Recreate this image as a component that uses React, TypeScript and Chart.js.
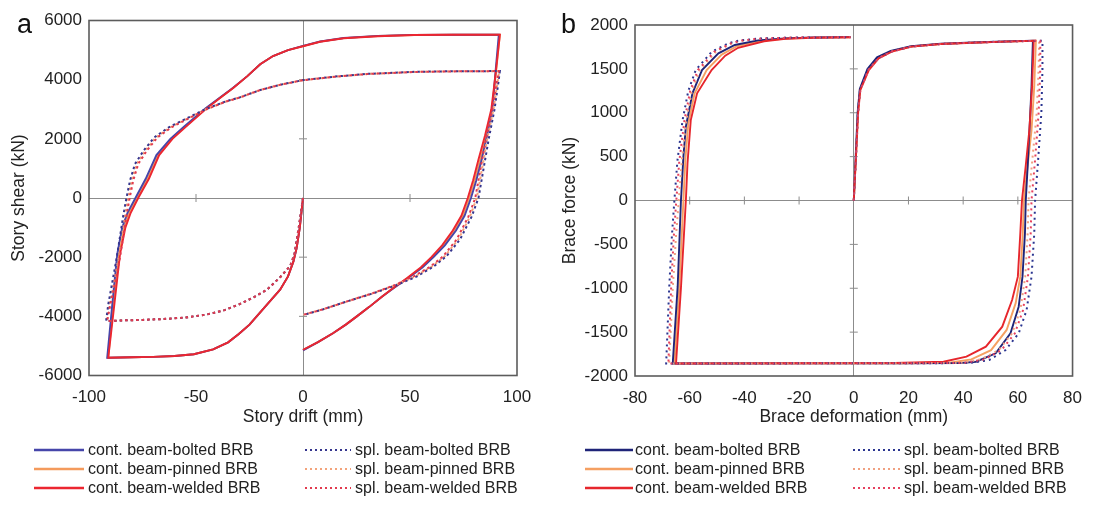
import { useEffect, useRef } from 'react';
import { Chart, registerables } from 'chart.js';

Chart.register(...registerables);

type Pt = [number, number];

const FONT = "'Liberation Sans', Arial, Helvetica, sans-serif";

const legendLabels = [
  'cont. beam-bolted BRB',
  'cont. beam-pinned BRB',
  'cont. beam-welded BRB',
  'spl. beam-bolted BRB',
  'spl. beam-pinned BRB',
  'spl. beam-welded BRB',
];

// stacking of the six curves: lower value is painted on top
const drawOrder = [4, 5, 3, 1, 2, 0];

// ---------- Panel a: story drift vs story shear ----------
const aDriftTicks = [-100, -50, 0, 50, 100];
const aShearTicks = [-6000, -4000, -2000, 0, 2000, 4000, 6000];

// continuous beam: first excursion to negative drift (common to all three)
const aContLoadNeg: Pt[] = [[0,0],[-1.5,-1000],[-3,-1700],[-4.5,-2150],[-7,-2650],[-10.7,-3100],[-15,-3450],[-20,-3870],[-25,-4280],[-30,-4600],[-35,-4880],[-42,-5120],[-51,-5280],[-60,-5340],[-70,-5370],[-80,-5385],[-91,-5400]];

const aContUpBolted: Pt[] = [[-91.5,-5400],[-89,-3500],[-86.8,-1900],[-84.5,-1000],[-82,-500],[-78.3,0],[-73.5,650],[-68.5,1450],[-62,2000],[-55.5,2420],[-45.5,3030],[-38.3,3420],[-32.8,3720],[-26,4120],[-20,4520],[-14,4800],[-7,5000],[0,5140],[8,5290],[19,5410],[35,5480],[52,5515],[70,5520],[91.5,5520]];
const aContUpPinned: Pt[] = [[-91,-5400],[-88.5,-3500],[-86,-1900],[-83.7,-1000],[-81.2,-500],[-77.6,0],[-72.7,650],[-67.8,1450],[-61.4,2000],[-55,2420],[-45.2,3030],[-38.1,3420],[-32.7,3720],[-26,4120],[-20,4520],[-14,4800],[-7,5000],[0,5135],[8,5285],[19,5405],[35,5475],[52,5512],[70,5520],[92,5520]];
const aContUpWelded: Pt[] = [[-91,-5400],[-88,-3500],[-85.5,-1900],[-83,-1000],[-80.5,-500],[-77,0],[-72,650],[-67.2,1450],[-61,2000],[-54.5,2420],[-45,3030],[-38,3420],[-32.6,3720],[-26,4120],[-20,4520],[-14,4800],[-7,5000],[0,5130],[8,5280],[19,5400],[35,5470],[52,5510],[70,5520],[92,5520]];

const aContDownBolted: Pt[] = [[91.5,5520],[90,4300],[88.5,3000],[86,2100],[83.5,1300],[81,600],[78.5,0],[75.5,-600],[71.5,-1100],[66.3,-1600],[61,-2000],[55.8,-2350],[49,-2710],[42.3,-3050],[37,-3330],[31,-3680],[25,-4010],[20,-4280],[14,-4570],[7,-4870],[0,-5150]];
const aContDownPinned: Pt[] = [[92,5520],[90.2,4250],[88.3,3000],[85.5,2100],[82.8,1300],[80.2,600],[77.7,0],[74.7,-600],[70.7,-1100],[65.6,-1600],[60.5,-2000],[55.4,-2350],[48.7,-2710],[42.1,-3050],[37,-3330],[31,-3680],[25,-4010],[20,-4280],[14,-4570],[7,-4870],[0,-5140]];
const aContDownWelded: Pt[] = [[92,5520],[90,4200],[88,3000],[85,2100],[82,1300],[79.5,600],[77,0],[74,-600],[70,-1100],[65,-1600],[60,-2000],[55,-2350],[48.5,-2710],[42,-3050],[37,-3330],[31,-3680],[25,-4010],[20,-4280],[14,-4570],[7,-4870],[0,-5130]];

// spliced beam: first excursion to negative drift (common to all three)
const aSplLoadNeg: Pt[] = [[0,0],[-2,-1000],[-4,-1900],[-6,-2300],[-10.7,-2680],[-17,-3110],[-23.4,-3370],[-29.4,-3580],[-37,-3800],[-45,-3940],[-55,-4040],[-65,-4090],[-75,-4120],[-85,-4140],[-91.5,-4160]];

const aSplUpBolted: Pt[] = [[-92,-4160],[-91,-3600],[-89.5,-3000],[-87,-2000],[-85.5,-1300],[-84,-600],[-82.5,0],[-80.8,600],[-78.5,1150],[-74.5,1600],[-69.5,2050],[-62.5,2400],[-55.5,2650],[-45.7,3000],[-36.3,3260],[-29.6,3400],[-20,3650],[-10,3840],[0,3985],[15,4105],[30,4195],[52,4265],[70,4285],[92,4290]];
const aSplUpPinned: Pt[] = [[-91.7,-4160],[-90.5,-3600],[-88.8,-3000],[-86.2,-2000],[-84.7,-1300],[-83.2,-600],[-81.7,0],[-80,600],[-77.7,1150],[-73.7,1600],[-68.7,2050],[-61.8,2400],[-55,2650],[-45.3,3000],[-36.1,3260],[-29.5,3400],[-20,3650],[-10,3840],[0,3982],[15,4102],[30,4192],[52,4262],[70,4282],[91.7,4290]];
const aSplUpWelded: Pt[] = [[-91.5,-4160],[-90,-3600],[-88.2,-3000],[-85.5,-2000],[-84,-1300],[-82.5,-600],[-81,0],[-79.3,600],[-77,1150],[-73,1600],[-68,2050],[-61.2,2400],[-54.5,2650],[-45,3000],[-36,3260],[-29.4,3400],[-20,3650],[-10,3840],[0,3980],[15,4100],[30,4190],[52,4260],[70,4280],[91.5,4290]];

const aSplDownBolted: Pt[] = [[92,4290],[91.3,3900],[89.5,3000],[86.8,2000],[84.4,1000],[82,0],[78.8,-630],[73.4,-1400],[67,-1970],[61,-2320],[53,-2660],[43.8,-2940],[32.9,-3220],[20.4,-3500],[9.5,-3760],[0.5,-3950]];
const aSplDownPinned: Pt[] = [[91.7,4290],[90.9,3900],[89,3000],[86.1,2000],[83.7,1000],[81.2,0],[78,-630],[72.6,-1400],[66.2,-1970],[60.2,-2320],[52.3,-2655],[43.4,-2940],[32.7,-3220],[20.4,-3500],[9.5,-3760],[0.2,-3950]];
const aSplDownWelded: Pt[] = [[91.5,4290],[90.5,3900],[88.5,3000],[85.5,2000],[83,1000],[80.5,0],[77.3,-630],[71.8,-1400],[65.5,-1970],[59.5,-2320],[51.7,-2650],[43,-2940],[32.5,-3220],[20.4,-3500],[9.5,-3760],[0,-3950]];

// ---------- Panel b: brace deformation vs brace force ----------
const bDeformTicks = [-80, -60, -40, -20, 0, 20, 40, 60, 80];
const bForceTicks = [-2000, -1500, -1000, -500, 0, 500, 1000, 1500, 2000];

const bContBolted: Pt[] = [[0,0],[0.7,500],[1.4,1000],[2.2,1270],[5,1500],[8.5,1632],[13.5,1705],[21,1758],[31.8,1786],[43.7,1800],[55,1812],[65.5,1822],
  [65,1300],[64.4,900],[63.6,400],[62.9,0],[62.6,-374],[61.7,-868],[60.3,-1210],[57.3,-1514],[51.9,-1741],[44.7,-1837],[38.8,-1853],[20,-1855],[-20,-1856],[-50,-1857],[-66.2,-1857],
  [-64.4,-982],[-63.2,0],[-62.3,500],[-61.4,841],[-59,1222],[-55.5,1487],[-49.5,1677],[-43.5,1772],[-35,1825],[-25,1848],[-15,1857],[-1.2,1862]];
const bContPinned: Pt[] = [[0,0],[0.8,500],[1.5,1000],[2.3,1265],[5.3,1492],[8.8,1626],[13.7,1700],[21,1755],[31.8,1784],[43.7,1799],[55,1811],[66.6,1821],
  [66,1300],[65,800],[63.6,400],[62.2,0],[61.8,-374],[60.9,-868],[59.2,-1170],[55.9,-1475],[50.2,-1705],[43,-1810],[35.5,-1846],[18,-1854],[-20,-1855],[-50,-1856],[-65.6,-1857],
  [-63.8,-990],[-62.3,0],[-61.6,460],[-60.5,880],[-58.2,1222],[-53.8,1487],[-48.3,1663],[-42.9,1756],[-34,1820],[-25,1846],[-15,1856],[-1.2,1861]];
const bContWelded: Pt[] = [[0,0],[0.8,500],[1.6,1000],[2.4,1259],[5.5,1487],[9.1,1620],[13.9,1696],[21.1,1753],[31.8,1783],[43.7,1798],[55,1810],[65.8,1821],
  [65.2,1300],[64.2,800],[62.9,400],[61.5,0],[60.9,-374],[60,-868],[57.9,-1134],[54.3,-1438],[48.3,-1666],[41.2,-1780],[32.8,-1837],[15,-1852],[-20,-1855],[-50,-1856],[-65,-1857],
  [-63.2,-1000],[-61.4,0],[-60.8,424],[-59.6,917],[-57.3,1222],[-52,1487],[-47,1650],[-42.3,1740],[-32.8,1815],[-25,1843],[-15,1855],[-1.2,1860]];

const bSplBolted: Pt[] = [[0,0],[0.8,500],[1.5,1000],[2.3,1265],[5.2,1495],[9,1625],[14,1700],[21,1755],[32,1785],[44,1800],[55,1812],[69,1821],
  [69,1500],[68.6,1000],[67.5,500],[66.3,0],[66,-374],[65,-868],[63.2,-1248],[60.3,-1514],[55.5,-1704],[49.5,-1818],[42.4,-1852],[20,-1855],[-20,-1856],[-50,-1857],[-68.6,-1857],
  [-67.5,-1000],[-66.5,-400],[-65.6,0],[-64.5,450],[-62.6,917],[-60.5,1250],[-57.8,1487],[-51.9,1696],[-45.9,1791],[-42.3,1821],[-35,1845],[-25,1855],[-15,1858],[-1.2,1860]];
const bSplPinned: Pt[] = [[0,0],[0.8,500],[1.6,1000],[2.4,1262],[5.4,1490],[9,1622],[13.9,1698],[21,1754],[32,1784],[44,1799],[55,1811],[67.8,1821],
  [67.6,1500],[66.9,1000],[65.4,500],[63.9,0],[63.6,-374],[62.7,-868],[60.9,-1248],[57.9,-1514],[53,-1704],[46.5,-1810],[39.5,-1850],[20,-1855],[-20,-1856],[-50,-1857],[-67.5,-1857],
  [-66.2,-1000],[-65,-400],[-64,0],[-62.9,450],[-61.2,917],[-59.2,1250],[-56.3,1487],[-50.4,1696],[-44.5,1791],[-41,1821],[-35,1843],[-25,1854],[-15,1858],[-1.2,1860]];
const bSplWelded: Pt[] = [[0,0],[0.8,500],[1.6,1000],[2.4,1262],[5.4,1490],[9,1622],[13.9,1698],[21,1754],[32,1784],[44,1799],[55,1811],[68.2,1821],
  [68.2,1500],[67.6,1000],[66.4,500],[65,0],[64.7,-374],[63.7,-868],[61.9,-1248],[58.9,-1514],[54,-1704],[47.8,-1810],[40.5,-1850],[20,-1855],[-20,-1856],[-50,-1857],[-67.8,-1857],
  [-66.8,-1000],[-65.8,-400],[-64.9,0],[-63.8,450],[-61.9,917],[-59.8,1250],[-57,1487],[-51,1696],[-45,1791],[-41.5,1821],[-35,1843],[-25,1854],[-15,1858],[-1.2,1860]];

type Series = { points: Pt[]; color: string; dotted: boolean };

interface PanelSpec {
  letter: string;
  letterX: number;
  letterY: number;
  xTicks: number[];
  yTicks: number[];
  xTitle: string;
  yTitle: string;
  yTitlePad: number;
  yAxisWidth: number;
  padding: { left: number; right: number; top: number; bottom: number };
  dash: number[];
  series: Series[];
  legendRows: number[];
  legendCols: { x1: number; x2: number; tx: number }[];
}

const panelA: PanelSpec = {
  letter: 'a',
  letterX: 17,
  letterY: 33,
  xTicks: aDriftTicks,
  yTicks: aShearTicks,
  xTitle: 'Story drift (mm)',
  yTitle: 'Story shear (kN)',
  yTitlePad: 9,
  yAxisWidth: 89,
  padding: { left: 0, right: 28, top: 20.5, bottom: 83.5 },
  dash: [2.5, 3],
  series: [
    { points: [...aContLoadNeg, ...aContUpBolted, ...aContDownBolted], color: '#4646aa', dotted: false },
    { points: [...aContLoadNeg, ...aContUpPinned, ...aContDownPinned], color: '#f49a5c', dotted: false },
    { points: [...aContLoadNeg, ...aContUpWelded, ...aContDownWelded], color: '#ec2630', dotted: false },
    { points: [...aSplLoadNeg, ...aSplUpBolted, ...aSplDownBolted], color: '#35358e', dotted: true },
    { points: [...aSplLoadNeg, ...aSplUpPinned, ...aSplDownPinned], color: '#f3a37a', dotted: true },
    { points: [...aSplLoadNeg, ...aSplUpWelded, ...aSplDownWelded], color: '#e23a4e', dotted: true },
  ],
  legendRows: [450, 469, 488],
  legendCols: [
    { x1: 34, x2: 84, tx: 88 },
    { x1: 305, x2: 351, tx: 355 },
  ],
};

const panelB: PanelSpec = {
  letter: 'b',
  letterX: 16,
  letterY: 33,
  xTicks: bDeformTicks,
  yTicks: bForceTicks,
  xTitle: 'Brace deformation (mm)',
  yTitle: 'Brace force (kN)',
  yTitlePad: 15,
  yAxisWidth: 90,
  padding: { left: 0, right: 12, top: 25, bottom: 83 },
  dash: [2, 4],
  series: [
    { points: bContBolted, color: '#1f2478', dotted: false },
    { points: bContPinned, color: '#f5a062', dotted: false },
    { points: bContWelded, color: '#e6262c', dotted: false },
    { points: bSplBolted, color: '#2b3590', dotted: true },
    { points: bSplPinned, color: '#f0a080', dotted: true },
    { points: bSplWelded, color: '#e6405e', dotted: true },
  ],
  legendRows: [450, 469, 488],
  legendCols: [
    { x1: 40, x2: 88, tx: 90 },
    { x1: 308, x2: 355, tx: 359 },
  ],
};

function decorPlugin(p: PanelSpec) {
  return {
    id: 'panelDecor',
    beforeDatasetsDraw(chart: any) {
      const { ctx, scales } = chart;
      const xs = scales.x;
      const ys = scales.y;
      const x0 = xs.getPixelForValue(0);
      const y0 = ys.getPixelForValue(0);
      ctx.save();
      ctx.strokeStyle = '#8c8c8c';
      ctx.lineWidth = 1;
      ctx.beginPath();
      p.xTicks.forEach((v) => {
        if (v === 0 || v === xs.min || v === xs.max) return;
        const px = xs.getPixelForValue(v);
        ctx.moveTo(px, y0 - 4);
        ctx.lineTo(px, y0 + 4);
      });
      p.yTicks.forEach((v) => {
        if (v === 0 || v === ys.min || v === ys.max) return;
        const py = ys.getPixelForValue(v);
        ctx.moveTo(x0 - 4, py);
        ctx.lineTo(x0 + 4, py);
      });
      ctx.stroke();
      ctx.restore();
    },
    afterDraw(chart: any) {
      const { ctx, chartArea: a } = chart;
      ctx.save();
      // plot frame
      ctx.strokeStyle = '#5c5c5c';
      ctx.lineWidth = 1.6;
      ctx.strokeRect(a.left, a.top, a.right - a.left, a.bottom - a.top);
      // panel letter
      ctx.fillStyle = '#111';
      ctx.font = `27px ${FONT}`;
      ctx.textBaseline = 'alphabetic';
      ctx.textAlign = 'left';
      ctx.fillText(p.letter, p.letterX, p.letterY);
      // two-column legend
      ctx.font = `16px ${FONT}`;
      ctx.textBaseline = 'middle';
      p.series.forEach((s, i) => {
        const col = p.legendCols[i < 3 ? 0 : 1];
        const y = p.legendRows[i % 3];
        ctx.beginPath();
        ctx.strokeStyle = s.color;
        ctx.lineWidth = s.dotted ? 2 : 2.4;
        ctx.setLineDash(s.dotted ? [2, 3] : []);
        ctx.moveTo(col.x1, y);
        ctx.lineTo(col.x2, y);
        ctx.stroke();
        ctx.setLineDash([]);
        ctx.fillStyle = '#222';
        ctx.fillText(legendLabels[i], col.tx, y + 1);
      });
      ctx.restore();
    },
  };
}

function Panel({ spec, left, width }: { spec: PanelSpec; left: number; width: number }) {
  const ref = useRef<HTMLCanvasElement | null>(null);

  useEffect(() => {
    if (!ref.current) return;
    const tickFont = { family: FONT, size: 17 };
    const titleFont = { family: FONT, size: 17.5 };
    const chart = new Chart(ref.current, {
      type: 'scatter',
      data: {
        datasets: spec.series.map((s, i) => ({
          label: legendLabels[i],
          data: s.points.map(([x, y]) => ({ x, y })),
          order: drawOrder[i],
          showLine: true,
          borderColor: s.color,
          backgroundColor: s.color,
          borderWidth: s.dotted ? 2 : 1.9,
          borderDash: s.dotted ? spec.dash : [],
          pointRadius: 0,
          pointHoverRadius: 0,
          tension: 0,
        })),
      },
      options: {
        responsive: false,
        maintainAspectRatio: false,
        animation: false,
        events: [],
        layout: { padding: spec.padding },
        plugins: {
          legend: { display: false },
          tooltip: { enabled: false },
        },
        scales: {
          x: {
            type: 'linear',
            min: spec.xTicks[0],
            max: spec.xTicks[spec.xTicks.length - 1],
            afterBuildTicks: (s: any) => {
              s.ticks = spec.xTicks.map((v) => ({ value: v }));
            },
            afterFit: (s: any) => {
              s.height = 52;
            },
            ticks: {
              font: tickFont,
              color: '#222',
              padding: 12,
              maxRotation: 0,
              autoSkip: false,
              callback: (v: any) => String(v),
            },
            grid: {
              drawTicks: false,
              lineWidth: 1,
              color: (c: any) => (c.tick && c.tick.value === 0 ? '#8c8c8c' : 'rgba(0,0,0,0)'),
            },
            border: { display: false },
            title: {
              display: true,
              text: spec.xTitle,
              font: titleFont,
              color: '#222',
              padding: { top: 0, bottom: 0 },
            },
          },
          y: {
            type: 'linear',
            min: spec.yTicks[0],
            max: spec.yTicks[spec.yTicks.length - 1],
            afterBuildTicks: (s: any) => {
              s.ticks = spec.yTicks.map((v) => ({ value: v }));
            },
            afterFit: (s: any) => {
              s.width = spec.yAxisWidth;
            },
            ticks: {
              font: tickFont,
              color: '#222',
              padding: 7,
              autoSkip: false,
              callback: (v: any) => String(v),
            },
            grid: {
              drawTicks: false,
              lineWidth: 1,
              color: (c: any) => (c.tick && c.tick.value === 0 ? '#8c8c8c' : 'rgba(0,0,0,0)'),
            },
            border: { display: false },
            title: {
              display: true,
              text: spec.yTitle,
              font: titleFont,
              color: '#222',
              padding: { top: spec.yTitlePad, bottom: 0 },
            },
          },
        },
      },
      plugins: [decorPlugin(spec)],
    } as any);
    return () => chart.destroy();
  }, [spec]);

  return (
    <div style={{ position: 'absolute', left, top: 0, width, height: 511 }}>
      <canvas ref={ref} width={width} height={511} style={{ display: 'block' }} />
    </div>
  );
}

export default function App() {
  return (
    <div
      style={{
        position: 'absolute',
        left: 0,
        top: 0,
        width: 1094,
        height: 511,
        background: '#fff',
        overflow: 'hidden',
      }}
    >
      <Panel spec={panelA} left={0} width={545} />
      <Panel spec={panelB} left={545} width={549} />
    </div>
  );
}
